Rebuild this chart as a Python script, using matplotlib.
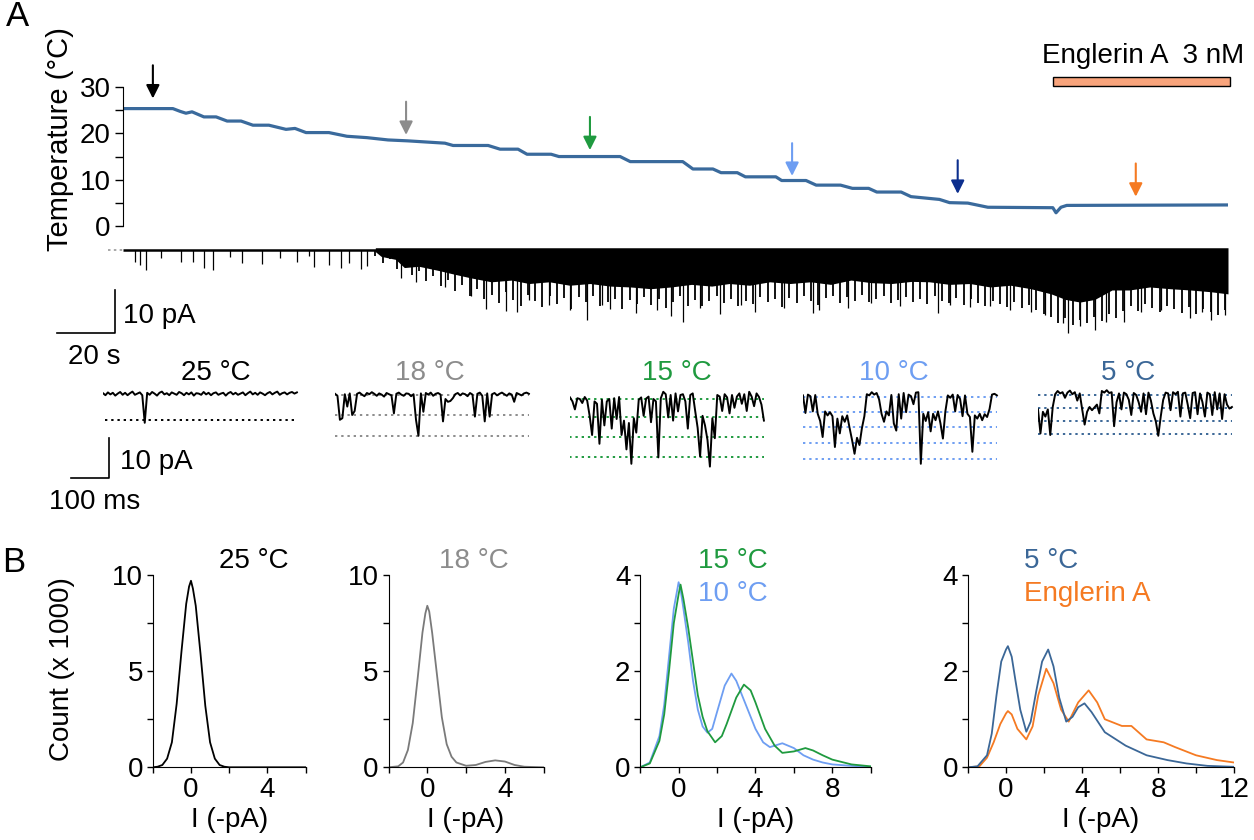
"""
Figura de temperatura, corriente y histogramas de amplitud.
Panel A: temperatura en el tiempo, corriente total y trazas cortas.
Panel B: histogramas de amplitud por temperatura.
"""

import matplotlib
matplotlib.use('Agg')
import matplotlib.pyplot as plt
import numpy as np
from matplotlib.patches import Rectangle

plt.rcParams['font.family'] = ['Liberation Sans', 'DejaVu Sans']
plt.rcParams['font.size'] = 20

# ---------------- Datos ----------------
# Temperatura (tiempo en s, °C)
temp_t = [0, 17.2, 19.7, 21.7, 23.8, 27.9, 32.1, 35.9, 40.7, 44.8, 50.3, 56.2, 59.3, 63.1,
          71.0, 77.2, 84.1, 91.4, 98.3, 111.0, 113.8, 125.9, 130.0, 136.2, 139.3, 147.6,
          150.3, 171.4, 174.9, 193.0, 196.5, 203.4, 206.2, 211.8, 214.6, 225.1, 227.1,
          235.5, 239.0, 247.4, 251.5, 257.1, 259.9, 268.3, 271.7, 281.5, 285.0, 291.3,
          298.2, 320.6, 321.7, 323.4, 325.4, 381.0]
temp_c = [25.4, 25.4, 24.8, 24.4, 24.7, 23.6, 23.6, 22.7, 22.7, 21.8, 21.8, 20.9, 21.1, 20.2,
          20.2, 19.4, 19.1, 18.6, 18.4, 17.9, 17.4, 17.4, 16.6, 16.6, 15.5, 15.5,
          15.0, 15.0, 13.9, 13.9, 12.3, 12.3, 11.5, 11.5, 10.6, 10.6, 9.8,
          9.8, 8.8, 8.8, 8.1, 8.1, 7.3, 7.3, 6.3, 5.7, 5.0, 4.9,
          4.0, 3.9, 2.8, 4.0, 4.4, 4.5]

# Flechas (tiempo, cola y punta en °C)
flecha_t = [10.3, 97.6, 161.0, 230.7, 287.8, 349.2]
flecha_cola = [34.8, 26.9, 23.6, 17.9, 14.2, 13.5]
flecha_punta = [27.6, 19.7, 16.4, 10.8, 6.9, 6.3]

# Aplicación de Englerin A (s)
englerin_t = [320.8, 381.6]

# Corriente total: borde inferior de la parte más densa (pA)
banda_t = [87, 89, 94, 97, 102, 109, 114, 120, 127, 134, 140, 147, 154, 161, 168, 175, 182,
           189, 196, 203, 209, 216, 223, 230, 237, 244, 251, 258, 265, 272, 278, 285, 292,
           299, 306, 313, 320, 325, 330, 335, 341, 347, 354, 361, 368, 375, 381]
banda_i = [-0.4, -1.5, -2.2, -4.1, -3.8, -4.8, -5.6, -6.5, -7.4, -7.0, -7.8, -7.4, -8.2,
           -7.8, -8.4, -8.6, -9.0, -8.6, -8.0, -8.4, -7.8, -8.2, -7.4, -7.8, -7.4,
           -8.0, -7.0, -7.6, -7.8, -7.3, -7.4, -8.0, -7.8, -8.6, -8.2, -9.0, -10.2,
           -11.5, -12.1, -11.5, -9.3, -9.3, -8.6, -9.0, -9.3, -9.7, -10.2]

# Corriente total: borde desflecado (pA), muestras equiespaciadas entre 87 y 380 s
flecos_i = [-1.5, -3.0, -2.2, -4.5, -3.4, -5.8,
            -5.0, -7.2, -6.1, -8.4, -7.0, -9.5, -8.2, -10.8, -9.0, -11.5,
            -10.5, -12.4, -9.8, -11.7, -12.9, -10.4, -11.9, -13.2, -10.8, -12.5, -11.2,
            -13.6, -11.0, -12.2, -10.6, -13.1, -12.0, -11.4, -13.8, -11.7, -12.6, -10.9,
            -12.8, -11.3, -13.4, -12.1, -10.8, -12.9, -11.6, -13.1, -11.9, -10.7, -12.3,
            -11.4, -13.0, -11.8, -12.5, -10.9, -12.2, -11.5, -13.3, -11.1, -12.4, -10.8,
            -11.9, -12.7, -11.2, -10.6, -12.3, -11.0,
            -11.8, -10.5, -12.1, -11.3, -10.8, -12.4, -11.6, -10.9, -12.0, -11.4, -12.6,
            -10.7, -11.9, -12.3, -11.1, -12.8, -11.5, -12.4, -13.0, -11.8, -12.6, -13.3,
            -12.1, -13.5, -12.8, -14.0,
            -14.8, -15.6, -16.9, -15.8, -17.4, -16.2, -17.0, -15.5, -16.6, -14.8, -15.7, -14.2,
            -13.0, -14.1, -12.6, -13.5, -14.4, -12.9, -13.8, -14.6, -13.2, -14.9, -13.6,
            -14.3, -15.0, -14.0]

# Eventos (picos) de la corriente total
pico_t = [4, 6, 8, 13, 20, 24, 28, 31, 37, 41, 48, 54, 60, 64, 66, 71, 75, 78, 82, 84,
          96, 101, 111, 120, 125, 132, 136, 140, 147, 154, 160, 165, 168, 177, 184, 189,
          193, 199, 206, 213, 218, 228, 238, 240, 250, 258, 268, 281, 285, 292, 299, 306,
          313, 318, 324, 326, 330, 335, 339, 345, 351, 358, 368, 372, 375, 380]
pico_i = [-2.8, -3.5, -4.7, -1.9, -2.8, -2.8, -4.2, -4.7, -1.6, -3.0, -3.3, -1.9, -2.8, -1.4,
          -4.0, -3.5, -4.2, -3.0, -4.4, -3.7,
          -6.5, -7.4, -8.6, -10.7, -13.7, -14.2, -14.4, -11.6, -12.8, -14.0, -16.3, -12.8,
          -13.7, -14.7, -14.0, -15.3, -16.7, -13.5, -14.9, -12.8, -14.4, -13.5, -14.7,
          -14.0, -13.5, -12.3, -13.0, -14.7, -12.8, -13.3, -13.0, -14.0, -14.4, -15.1,
          -17.0, -19.3, -17.7, -18.6, -16.7, -16.7, -14.4, -14.0, -15.8, -14.4, -16.3, -15.1]

# Trazas cortas (pA, muestras equiespaciadas en 510 ms)
traza_25 = [0.2, -0.3, 0.4, -0.1, 0.3, -0.4, 0.1, 0.5, -0.2, 0.3, -0.3, 0.2, 0.6, -0.2, 0.1,
            0.4, -0.3, -7.2, 0.3, -0.2, 0.5, 0.1, -0.4, 0.3, 0.6, -0.1, 0.2, -0.3, 0.4, 0.1,
            -0.2, 0.5, 0.2, -0.3, 0.3, -0.1, 0.4, -0.4, 0.2, 0.1, -0.2, 0.5, -0.1, 0.3, -0.3,
            0.2, 0.4, -0.2, 0.1, 0.3, -0.4, 0.2, 0.5, -0.1, 0.3, -0.2, 0.1, 0.4, -0.3, 0.2,
            0.6, -0.1, 0.3, -0.2, 0.4, 0.1, -0.3, 0.2, 0.5, -0.1, 0.3, 0.6, -0.2, 0.2, 0.4,
            -0.1, 0.3, 0.5, 0.1, 0.4]
traza_18 = [0.3, -0.2, -6.2, -5.8, 0.2, -2.9, 0.4, -5.0, -4.0, 0.3, 0.6, 0.1, -0.3, 0.5, 0.2,
            0.7, 0.3, -0.2, 0.4, 0.1, -0.4, 0.5, 0.2, -0.1, -4.6, 0.3, 0.6, 0.1, -0.2, 0.4,
            0.3, -0.3, 0.2, -6.2, -10.2, 0.4, -4.2, 0.5, 0.1, 0.6, -0.2, 0.3, 0.5, 0.1, -6.6,
            -1.0, -1.7, -1.5, -0.8, 0.2, 0.5, -0.1, 0.4, 0.2, -0.3, 0.5, 0.1, -5.4, 0.3, 0.6,
            -0.2, -6.6, 0.4, -5.4, 0.2, 0.5, -0.1, 0.3, 0.6, 0.2, -0.2, 0.4, 0.1, -1.7, 0.5,
            0.2, -0.1, 0.4, 0.6, 0.3]
traza_15 = [0.4, -0.6, -2.6, 0.2, 0.0, -1.0, 0.5, -0.4, -4.2, -9.0, -0.6, -1.2, -11.2, -0.2,
            -6.6, -0.6, 0.0, -7.4, 0.2, -5.0, 0.5, -9.0, -5.4, -12.6, -6.0, -16.2, -4.8, -8.4,
            -0.2, 0.4, -4.2, 0.1, 0.6, -5.8, 0.0, -0.6, -14.6, 0.2, 1.8, 1.2, -4.6, 1.0, -5.4,
            1.4, -3.1, 1.0, 1.2, -0.6, -7.4, 1.0, 1.4, -3.0, -7.2, -14.4, -4.2, -6.6, -10.2,
            -16.9, -4.8, -9.8, 1.0, 0.6, -3.0, 1.2, 0.4, -3.6, 1.0, -2.2, 0.6, 1.4, -1.2, 1.2,
            -3.0, 1.8, 0.6, -1.8, 1.4, 0.5, -1.4, -5.4]
traza_10 = [0.4, -4.0, 0.6, 0.2, -3.6, 0.5, -4.2, -6.0, -10.0, -3.6, -4.6, -3.8, -4.8, -12.5,
            -5.4, -9.1, -4.8, -6.2, -4.6, -7.8, -10.8, -14.2, -10.2, -12.0, -7.8, -4.8, 0.7,
            0.4, 1.2, 0.6, 1.0, -0.6, -4.2, -6.2, -3.6, -4.6, 0.5, -6.6, -8.4, 0.7, -5.4, 1.0,
            -3.8, 0.6, 0.2, -1.8, 1.1, 1.2, -16.7, -4.2, -6.0, -3.8, -8.6, -4.2, -5.8, -3.6,
            -6.6, -10.4, -3.6, 0.4, -0.2, 0.6, -3.6, 0.5, -0.5, -4.8, 0.4, -4.2, -5.0, -13.7,
            -4.6, -5.4, -4.2, -5.8, -4.3, -5.0, -3.0, 0.6, 0.8, 0.4]
traza_5 = [-3.6, -9.6, -4.2, -5.4, -3.6, -10.0, -3.0, 0.2, 1.0, 0.4, 0.7, -0.7, 0.6, 1.1, 0.2,
           0.7, -1.4, 0.4, -3.6, -7.4, -4.2, -3.0, -3.8, -3.1, -2.4, -4.6, 1.0, 0.6, 1.2, 0.5,
           0.7, -7.8, -1.8, 0.4, -3.6, 0.6, 0.2, -1.2, -5.0, 0.5, 0.0, -1.8, -4.2, 0.4, -4.8,
           0.6, -1.4, -4.6, -6.6, -10.2, -5.4, -1.2, 0.6, 0.4, -3.8, 0.7, 0.2, 0.8, -5.4, 0.4,
           0.6, -2.4, -5.8, 0.5, 0.7, -4.8, 0.4, -1.8, -5.4, 0.6, 0.2, -5.0, 0.7, -3.6, 0.4,
           -6.0, 0.2, -2.4, -3.4, -3.0]

# Niveles de apertura (pA)
niveles_25 = [-6.5]
niveles_18 = [0, -5.0, -10.25]
niveles_15 = [0, -4.5, -9.5, -14.5]
niveles_10 = [0, -3.75, -7.5, -11.5, -15.5]
niveles_5 = [0, -3.25, -6.5, -9.75]

# Histogramas (I en -pA, cuentas x 1000)
h25_x = [-2, -1.75, -1.5, -1.25, -1, -0.75, -0.5, -0.25, -0.1, 0, 0.1, 0.25, 0.5, 0.75, 1,
         1.25, 1.5, 1.75, 2, 6]
h25_y = [0, 0.03, 0.12, 0.45, 1.3, 3.3, 6.0, 8.5, 9.4, 9.7, 9.3, 8.4, 5.9, 3.2, 1.3, 0.45,
         0.12, 0.03, 0, 0]
h18_x = [-2, -1.5, -1.25, -1, -0.75, -0.5, -0.25, -0.1, 0, 0.1, 0.25, 0.5, 0.75, 1, 1.25, 1.5,
         2, 2.5, 3, 3.5, 4, 4.5, 5, 6]
h18_y = [0, 0.05, 0.25, 0.9, 2.3, 4.6, 7.0, 8.0, 8.4, 8.1, 7.0, 4.8, 2.6, 1.2, 0.55, 0.25,
         0.08, 0.12, 0.28, 0.36, 0.3, 0.12, 0.03, 0]
h15_x = [-2, -1.5, -1, -0.75, -0.5, -0.25, 0, 0.1, 0.25, 0.5, 0.75, 1, 1.25, 1.5, 1.9, 2.25,
         2.5, 3, 3.4, 3.75, 4, 4.5, 5, 5.4, 6, 6.6, 7, 7.5, 8, 9, 10]
h15_y = [0, 0.08, 0.55, 1.1, 2.0, 3.0, 3.6, 3.8, 3.5, 2.9, 2.2, 1.5, 1.05, 0.75, 0.52, 0.65,
         0.9, 1.45, 1.72, 1.6, 1.35, 0.8, 0.45, 0.3, 0.33, 0.4, 0.35, 0.25, 0.16, 0.06, 0.02]
h10_x = [-2, -1.5, -1, -0.75, -0.5, -0.25, 0, 0.1, 0.25, 0.5, 0.75, 1, 1.25, 1.5, 1.75, 2,
         2.4, 2.75, 3, 3.5, 4, 4.4, 4.75, 5, 5.4, 6, 6.5, 7, 7.5, 8, 9, 10]
h10_y = [0, 0.1, 0.65, 1.3, 2.3, 3.3, 3.85, 3.7, 3.3, 2.6, 1.8, 1.2, 0.85, 0.72, 0.8, 1.15,
         1.7, 1.95, 1.8, 1.3, 0.8, 0.52, 0.42, 0.45, 0.5, 0.4, 0.25, 0.16, 0.1, 0.06, 0.03,
         0.01]
h5_x = [-2, -1.5, -1, -0.75, -0.5, -0.25, 0, 0.1, 0.3, 0.5, 0.75, 1.07, 1.3, 1.6, 1.9, 2.22,
        2.5, 2.8, 3.17, 3.5, 3.8, 4.13, 4.5, 5.2, 6.3, 7.4, 8.5, 9.5, 10.6, 12]
h5_y = [0, 0.02, 0.25, 0.7, 1.5, 2.2, 2.45, 2.52, 2.3, 1.8, 1.2, 0.74, 0.95, 1.6, 2.2, 2.45,
        2.1, 1.45, 0.95, 1.05, 1.25, 1.33, 1.15, 0.73, 0.45, 0.25, 0.15, 0.08, 0.03, 0.01]
heng_x = [-2, -1.4, -1, -0.65, -0.3, 0, 0.1, 0.3, 0.6, 1.07, 1.4, 1.7, 2.12, 2.5, 2.9, 3.3,
          3.8, 4.35, 4.8, 5.2, 6.1, 6.6, 7.4, 8.3, 8.9, 10, 11.1, 12]
heng_y = [0, 0.02, 0.2, 0.52, 0.9, 1.12, 1.17, 1.1, 0.8, 0.58, 0.85, 1.5, 2.05, 1.75, 1.2,
          0.95, 1.35, 1.6, 1.35, 1.0, 0.86, 0.86, 0.58, 0.52, 0.42, 0.25, 0.15, 0.1]

# Colores
NEGRO = 'black'
GRIS = '#8c8c8c'
VERDE = '#1f9a3f'
CELESTE = '#6e9ef2'
AZUL = '#3b6797'
AZUL_OSC = '#0c2f8e'
NARANJA = '#f57a22'
TEMP_COLOR = '#3a6a9c'

W, H = 1254, 840
fig = plt.figure(figsize=(W / 100, H / 100), dpi=100)


# Crea ejes a partir de coordenadas en pixeles
def ejes(izq, arriba, der, abajo):
    return fig.add_axes([izq / W, 1 - abajo / H, (der - izq) / W, (abajo - arriba) / H])


def texto(x, y, s, **kw):
    kw.setdefault('ha', 'center')
    kw.setdefault('va', 'center')
    fig.text(x / W, 1 - y / H, s, **kw)


# ---------------- Panel A: temperatura ----------------
ax_t = ejes(123, 41.3, 1228, 230.3)
ax_t.plot(temp_t, temp_c, color=TEMP_COLOR, lw=2.3, solid_joinstyle='round')
ax_t.set_xlim(0, 381)
ax_t.set_ylim(-1, 40)
for s in ['top', 'right', 'bottom']:
    ax_t.spines[s].set_visible(False)
ax_t.spines['left'].set_bounds(0, 30)
ax_t.set_yticks([0, 10, 20, 30])
ax_t.set_yticks([5, 15, 25], minor=True)
ax_t.tick_params(axis='y', which='both', length=6, width=1, pad=3, labelsize=20)
ax_t.tick_params(axis='x', bottom=False, labelbottom=False)
ax_t.patch.set_alpha(0)

colores_flecha = [NEGRO, GRIS, VERDE, CELESTE, AZUL_OSC, NARANJA]
for t, c0, c1, col in zip(flecha_t, flecha_cola, flecha_punta, colores_flecha):
    ax_t.annotate('', xy=(t, c1), xytext=(t, c0),
                  arrowprops=dict(arrowstyle='-|>', color=col, lw=1.5,
                                  mutation_scale=20, shrinkA=0, shrinkB=0))

ax_t.add_patch(Rectangle((englerin_t[0], 30.3), englerin_t[1] - englerin_t[0], 2.0,
                         facecolor='#f8a47c', edgecolor='black', lw=1, clip_on=False))
ax_t.text(317, 36.8, 'Englerin A  3 nM', ha='left', va='center', fontsize=20)

texto(60, 139, 'Temperature (°C)', rotation=90, fontsize=21)
texto(18, 16, 'A', fontsize=25)

# ---------------- Panel A: corriente total ----------------
ax_i = ejes(123, 243, 1228, 340)
ax_i.set_xlim(0, 381)
ax_i.set_ylim(-20.9, 1.6)
ax_i.axis('off')
ax_i.hlines(0, 0, 381, color='black', lw=1.8)
ax_i.plot([-5.2, 0], [0, 0], color='#999999', lw=1.2, ls=(0, (1.5, 2)), clip_on=False)
ax_i.fill_between(banda_t, banda_i, 0.5, color='black', lw=0)
flecos_t = np.linspace(87, 380, len(flecos_i))
ax_i.vlines(flecos_t, 0, flecos_i, color='black', lw=1.3)
ax_i.vlines(pico_t, 0, pico_i, color='black', lw=0.9)

# barra de escala (20 s, 10 pA)
ax_i.plot([-22.6, -2.6, -2.6], [-19.3, -19.3, -9.3], color='black', lw=1.2, clip_on=False)
ax_i.text(0, -15.3, '10 pA', ha='left', va='center', fontsize=20)
ax_i.text(-9.8, -24.9, '20 s', ha='center', va='center', fontsize=20)

# ---------------- Panel A: trazas cortas ----------------
trazas = [
    (103, 394, traza_25, niveles_25, NEGRO, '25 °C', 216, 5),
    (335, 395, traza_18, niveles_18, GRIS, '18 °C', 430, 0),
    (570, 399, traza_15, niveles_15, VERDE, '15 °C', 677, -18),
    (803, 397, traza_10, niveles_10, CELESTE, '10 °C', 894, 0),
    (1038, 395, traza_5, niveles_5, AZUL, '5 °C', 1128, 0),
]
ejes_trazas = []
for izq, base, vals, niv, col, etiqueta, xe, x0 in trazas:
    ax = ejes(izq, base - 20, izq + 200, base + 80)
    ax.set_xlim(0, 526)
    ax.set_ylim(-20, 5)
    ax.axis('off')
    t = np.linspace(0, 510, len(vals))
    ax.hlines(niv, x0, 510, colors=col, lw=1.4, linestyles=(0, (1.2, 2.0)), zorder=1)
    ax.plot(t, vals, color='black', lw=1.4, zorder=2)
    texto(xe, 373, etiqueta, color=col)
    ejes_trazas.append(ax)

# barra de escala (100 ms, 10 pA)
ax0 = ejes_trazas[0]
ax0.plot([-85.2, 14.5, 14.5], [-21, -21, -11], color='black', lw=1.2, clip_on=False)
ax0.text(44.7, -17, '10 pA', ha='left', va='center', fontsize=20)
ax0.text(-22.4, -27, '100 ms', ha='center', va='center', fontsize=20)


# ---------------- Panel B: histogramas ----------------
def histo(izq, der, xmax, ymax, xmaj, xmin, ymaj, ymin):
    ax = ejes(izq, 575, der, 767.3)
    ax.set_xlim(-2, xmax)
    ax.set_ylim(0, ymax)
    ax.spines['top'].set_visible(False)
    ax.spines['right'].set_visible(False)
    ax.set_xticks(xmaj)
    ax.set_xticks(xmin, minor=True)
    ax.set_yticks(ymaj)
    ax.set_yticks(ymin, minor=True)
    ax.tick_params(which='both', length=4, width=1, pad=3, labelsize=20)
    ax.patch.set_alpha(0)
    texto((izq + der) / 2, 820, 'I (-pA)')
    return ax


a1 = histo(152.8, 305.5, 6, 10, [0, 4], [-2, 2, 6], [0, 5, 10], [2.5, 7.5])
a1.plot(h25_x, h25_y, color='black', lw=1.3)
a2 = histo(388.5, 543.7, 6, 10, [0, 4], [-2, 2, 6], [0, 5, 10], [2.5, 7.5])
a2.plot(h18_x, h18_y, color='#7a7a7a', lw=1.3)
a3 = histo(640.2, 870.7, 10, 4, [0, 4, 8], [-2, 2, 6, 10], [0, 2, 4], [1, 3])
a3.plot(h10_x, h10_y, color=CELESTE, lw=1.3)
a3.plot(h15_x, h15_y, color=VERDE, lw=1.3)
a4 = histo(968, 1234, 12, 4, [0, 4, 8, 12], [-2, 2, 6, 10], [0, 2, 4], [1, 3])
a4.plot(heng_x, heng_y, color=NARANJA, lw=1.3)
a4.plot(h5_x, h5_y, color=AZUL, lw=1.3)

texto(254, 561, '25 °C')
texto(474, 561, '18 °C', color=GRIS)
texto(733, 561, '15 °C', color=VERDE)
texto(733, 594, '10 °C', color=CELESTE)
texto(1024, 561, '5 °C', color=AZUL, ha='left')
texto(1024, 594, 'Englerin A', color=NARANJA, ha='left')
texto(62, 669, 'Count (x 1000)', rotation=90)
texto(14, 562, 'B', fontsize=25)

plt.savefig('out.png', dpi=100)
